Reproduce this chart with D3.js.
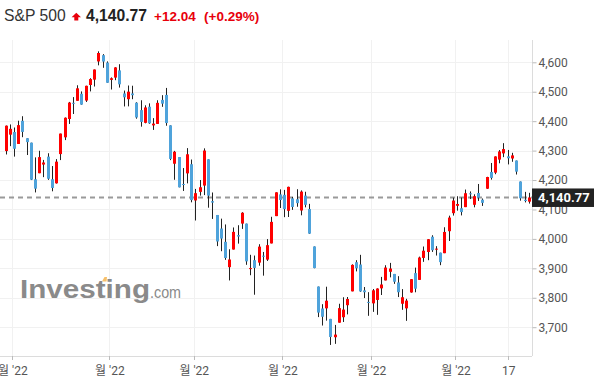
<!DOCTYPE html>
<html>
<head>
<meta charset="utf-8">
<script src="https://cdn.jsdelivr.net/npm/d3@7"></script>
<style>
html,body{margin:0;padding:0;background:#fff;}
svg{display:block;}
</style>
</head>
<body>
<svg id="chart" width="594" height="384"></svg>
<script>
// ---- data (S&P 500 daily candles) ----
const dates = ["2022-02-25","2022-02-28","2022-03-01","2022-03-02","2022-03-03","2022-03-04","2022-03-07","2022-03-08","2022-03-09","2022-03-10","2022-03-11","2022-03-14","2022-03-15","2022-03-16","2022-03-17","2022-03-18","2022-03-21","2022-03-22","2022-03-23","2022-03-24","2022-03-25","2022-03-28","2022-03-29","2022-03-30","2022-03-31","2022-04-01","2022-04-04","2022-04-05","2022-04-06","2022-04-07","2022-04-08","2022-04-11","2022-04-12","2022-04-13","2022-04-14","2022-04-18","2022-04-19","2022-04-20","2022-04-21","2022-04-22","2022-04-25","2022-04-26","2022-04-27","2022-04-28","2022-04-29","2022-05-02","2022-05-03","2022-05-04","2022-05-05","2022-05-06","2022-05-09","2022-05-10","2022-05-11","2022-05-12","2022-05-13","2022-05-16","2022-05-17","2022-05-18","2022-05-19","2022-05-20","2022-05-23","2022-05-24","2022-05-25","2022-05-26","2022-05-27","2022-05-31","2022-06-01","2022-06-02","2022-06-03","2022-06-06","2022-06-07","2022-06-08","2022-06-09","2022-06-10","2022-06-13","2022-06-14","2022-06-15","2022-06-16","2022-06-17","2022-06-21","2022-06-22","2022-06-23","2022-06-24","2022-06-27","2022-06-28","2022-06-29","2022-06-30","2022-07-01","2022-07-05","2022-07-06","2022-07-07","2022-07-08","2022-07-11","2022-07-12","2022-07-13","2022-07-14","2022-07-15","2022-07-18","2022-07-19","2022-07-20","2022-07-21","2022-07-22","2022-07-25","2022-07-26","2022-07-27","2022-07-28","2022-07-29","2022-08-01","2022-08-02","2022-08-03","2022-08-04","2022-08-05","2022-08-08","2022-08-09","2022-08-10","2022-08-11","2022-08-12","2022-08-15","2022-08-16","2022-08-17","2022-08-18","2022-08-19","2022-08-22","2022-08-23","2022-08-24"];
const opens = [4298.38,4354.17,4363.14,4322.56,4401.31,4342.12,4327.01,4202.66,4223.10,4252.55,4279.50,4202.75,4188.82,4288.14,4345.11,4407.34,4462.40,4469.10,4493.10,4469.98,4522.91,4541.09,4602.86,4624.20,4599.02,4540.32,4547.97,4572.45,4494.17,4474.65,4494.15,4462.64,4437.59,4394.30,4449.12,4385.63,4390.63,4472.26,4489.17,4385.83,4255.34,4278.14,4186.52,4222.58,4253.75,4130.61,4159.78,4181.18,4270.43,4128.17,4081.27,4035.18,3990.08,3903.95,3963.90,4013.02,4052.00,4051.98,3899.00,3927.76,3919.42,3942.94,3929.59,3984.60,4077.43,4151.09,4149.78,4095.41,4137.57,4134.72,4096.47,4147.12,4101.65,3974.39,3838.15,3763.52,3764.05,3728.18,3665.90,3715.31,3733.89,3774.71,3821.75,3920.76,3913.00,3825.09,3785.99,3781.00,3792.61,3831.98,3858.85,3888.26,3880.94,3851.95,3779.67,3763.99,3818.00,3883.79,3860.73,3935.32,3955.47,4007.36,3965.72,3953.22,3951.43,4026.13,4087.33,4112.38,4104.21,4107.96,4154.85,4115.87,4155.93,4133.11,4170.53,4227.40,4225.02,4269.37,4290.46,4280.40,4273.13,4266.31,4195.08,4133.09,4126.55];
const highs = [4385.34,4388.84,4378.45,4401.48,4416.78,4342.12,4327.01,4276.94,4299.40,4268.28,4291.01,4247.57,4271.05,4357.86,4412.67,4465.40,4481.75,4522.00,4501.07,4520.58,4546.03,4575.65,4637.30,4627.77,4603.07,4548.70,4583.50,4593.45,4503.94,4521.16,4520.41,4464.35,4471.00,4453.92,4460.46,4410.31,4471.03,4488.29,4512.94,4385.83,4299.02,4278.14,4240.71,4308.45,4269.68,4169.81,4200.10,4307.66,4270.43,4157.69,4081.27,4068.82,4049.09,3964.80,4038.88,4046.46,4090.72,4051.98,3945.96,3943.42,3981.88,3955.68,3999.33,4075.14,4158.49,4168.34,4166.54,4177.51,4142.67,4168.78,4164.86,4160.14,4119.10,3974.39,3838.15,3778.18,3837.56,3728.18,3707.71,3779.65,3801.79,3802.58,3913.65,3927.72,3945.86,3836.50,3818.99,3829.82,3832.19,3870.91,3910.63,3918.50,3880.94,3873.41,3829.44,3796.41,3863.62,3902.44,3939.81,3974.13,3999.29,4012.44,3975.30,3953.22,4039.56,4078.95,4140.15,4144.95,4140.47,4167.66,4161.29,4151.58,4186.62,4137.30,4211.03,4257.91,4280.47,4301.79,4325.28,4302.18,4292.53,4266.31,4195.08,4159.77,4156.56];
const lows = [4286.83,4315.12,4279.54,4322.56,4345.56,4284.98,4199.85,4157.87,4223.10,4209.80,4200.49,4161.72,4187.90,4267.77,4335.65,4390.57,4424.30,4469.10,4455.81,4465.17,4501.07,4517.69,4589.66,4581.32,4530.41,4507.57,4539.21,4514.17,4450.04,4450.30,4474.60,4408.38,4381.34,4392.70,4390.77,4370.30,4390.63,4448.76,4384.47,4267.62,4200.82,4175.04,4162.90,4188.63,4124.28,4062.51,4147.08,4148.91,4106.01,4067.91,3975.48,3958.17,3928.82,3858.87,3963.90,3983.99,4033.93,3911.91,3876.58,3810.32,3909.04,3875.13,3925.03,3984.60,4077.43,4104.88,4073.85,4074.37,4098.67,4109.18,4080.19,4107.20,4017.17,3900.16,3734.30,3705.68,3722.30,3639.77,3643.41,3715.31,3717.69,3743.52,3821.75,3889.66,3820.14,3799.02,3738.67,3752.10,3742.06,3809.37,3858.85,3869.34,3847.22,3802.36,3759.07,3721.56,3817.18,3818.63,3860.73,3922.03,3927.64,3955.77,3943.46,3910.74,3951.43,3992.97,4079.22,4096.02,4079.81,4107.96,4135.42,4107.31,4128.97,4112.09,4169.82,4201.41,4219.78,4256.90,4277.77,4253.08,4261.98,4218.70,4129.86,4124.03,4119.97];
const closes = [4384.65,4373.94,4306.26,4386.54,4363.49,4328.87,4201.09,4170.70,4277.88,4259.52,4204.31,4173.11,4262.45,4357.86,4411.67,4463.12,4461.18,4511.61,4456.24,4520.16,4543.06,4575.52,4631.60,4602.45,4530.41,4545.86,4582.64,4525.12,4481.15,4500.21,4488.28,4412.53,4397.45,4446.59,4392.59,4391.69,4462.21,4459.45,4393.66,4271.78,4296.12,4175.20,4183.96,4287.50,4131.93,4155.38,4175.48,4300.17,4146.87,4123.34,3991.24,4001.05,3935.18,3930.08,4023.89,4008.01,4088.85,3923.68,3900.79,3901.36,3973.75,3941.48,3978.73,4057.84,4158.24,4132.15,4101.23,4176.82,4108.54,4121.43,4160.68,4115.77,4017.82,3900.86,3749.63,3735.48,3789.99,3666.77,3674.84,3764.79,3759.89,3795.73,3911.74,3900.11,3821.55,3818.83,3785.38,3825.33,3831.39,3845.08,3902.62,3899.38,3854.43,3818.80,3801.78,3790.38,3863.16,3830.85,3936.69,3959.90,3998.95,3961.63,3966.84,3921.05,4023.61,4072.43,4130.29,4118.63,4091.19,4155.17,4151.94,4145.19,4140.06,4122.47,4210.24,4207.27,4280.15,4297.14,4305.20,4274.04,4283.74,4228.48,4137.99,4128.73,4140.77];

const yTicks = [3700,3800,3900,4000,4100,4200,4300,4400,4500,4600];
const xTickDates = ["2022-03-01","2022-04-01","2022-05-02","2022-06-01","2022-07-01","2022-08-01"];
const xTickLabels = ["월 '22","월 '22","월 '22","월 '22","월 '22","월 '22"];
const dayTickDate = "2022-08-17";
const dayTickLabel = "17";

const titleName = "S&P 500";
const lastPrice = 4140.77;
const change = "+12.04";
const changePct = "(+0.29%)";

// ---- layout ----
const W = 594, H = 384;
const plotLeft = 0, plotRight = 532, plotTop = 40, plotBottom = 356;
const UP = "#ff0000", DOWN = "#4fa3db", WICK = "#222";

const svg = d3.select("#chart");

const x = d3.scaleBand().domain(dates).range([3.9, 531.4]).padding(0);
const y = d3.scaleLinear().domain([3700, 4600]).range([327.2, 62.3]);
const step = x.step();
const cx = d => x(d) + step / 2;

// grid
const grid = svg.append("g");
grid.selectAll("line.h").data(yTicks).enter().append("line")
  .attr("x1", plotLeft).attr("x2", plotRight)
  .attr("y1", d => Math.round(y(d)) + 0.5).attr("y2", d => Math.round(y(d)) + 0.5)
  .attr("stroke", "#f1f1f1").attr("stroke-width", 1);

const vTicks = xTickDates.map((d, i) => ({pos: x(d), label: xTickLabels[i]}))
  .concat([{pos: cx(dayTickDate), label: dayTickLabel}]);
grid.selectAll("line.v").data(vTicks).enter().append("line")
  .attr("x1", d => Math.round(d.pos) + 0.5).attr("x2", d => Math.round(d.pos) + 0.5)
  .attr("y1", plotTop).attr("y2", plotBottom)
  .attr("stroke", "#f1f1f1").attr("stroke-width", 1);

// watermark
const wm = svg.append("g");
wm.append("text").attr("x", 20).attr("y", 298)
  .attr("font-family", "Arial, 'Liberation Sans', sans-serif")
  .attr("font-weight", "bold").attr("font-size", 25)
  .attr("textLength", 130).attr("lengthAdjust", "spacingAndGlyphs")
  .attr("fill", "#8a8a8a").text("Investing");
wm.append("text").attr("x", 150).attr("y", 298)
  .attr("font-family", "Arial, 'Liberation Sans', sans-serif")
  .attr("font-size", 16)
  .attr("textLength", 31).attr("lengthAdjust", "spacingAndGlyphs")
  .attr("fill", "#8a8a8a").text(".com");
wm.append("path").attr("d", "M102,281.5 L104.5,277 L107,277 L106.5,281.5 Z").attr("fill", "#f7c06a");

// axes lines
svg.append("line").attr("x1", plotRight + 0.5).attr("x2", plotRight + 0.5)
  .attr("y1", plotTop).attr("y2", plotBottom).attr("stroke", "#dcdcdc");
svg.append("line").attr("x1", 0).attr("x2", plotRight)
  .attr("y1", plotBottom + 0.5).attr("y2", plotBottom + 0.5).attr("stroke", "#dcdcdc");

// y axis (right)
const yAxis = d3.axisRight(y).tickValues(yTicks).tickSize(4).tickPadding(2)
  .tickFormat(d3.format(","));
const ya = svg.append("g").attr("transform", `translate(${plotRight + 0.5},0)`).call(yAxis);
ya.select(".domain").remove();
ya.selectAll(".tick line").attr("stroke", "#bbb");
ya.selectAll(".tick text").attr("fill", "#555").attr("font-size", 12)
  .attr("font-family", "Roboto, 'Noto Sans CJK KR', sans-serif");

// x axis ticks + labels
const xa = svg.append("g");
xa.selectAll("line").data(vTicks).enter().append("line")
  .attr("x1", d => Math.round(d.pos) + 0.5).attr("x2", d => Math.round(d.pos) + 0.5)
  .attr("y1", plotBottom).attr("y2", plotBottom + 4).attr("stroke", "#bbb");
xa.selectAll("text").data(vTicks).enter().append("text")
  .attr("x", d => d.pos + 0.5).attr("y", 375)
  .attr("text-anchor", "middle").attr("fill", "#555").attr("font-size", 12)
  .attr("font-family", "Roboto, 'Noto Sans CJK KR', sans-serif")
  .text(d => d.label);

// last price dashed line
svg.append("line").attr("x1", 0).attr("x2", plotRight)
  .attr("y1", y(lastPrice)).attr("y2", y(lastPrice))
  .attr("stroke", "#9a9a9a").attr("stroke-width", 2).attr("stroke-dasharray", "5,4");

// candles
const candles = dates.map((d, i) => ({d, o: opens[i], h: highs[i], l: lows[i], c: closes[i]}));
const cg = svg.append("g");
const bodyW = 3;
const left = d => Math.round(cx(d.d) - bodyW / 2);
cg.selectAll("line.wick").data(candles).enter().append("line")
  .attr("x1", d => left(d) + 1.5).attr("x2", d => left(d) + 1.5)
  .attr("y1", d => y(d.h)).attr("y2", d => y(d.l))
  .attr("stroke", WICK).attr("stroke-width", 1);
cg.selectAll("rect.body").data(candles).enter().append("rect")
  .attr("x", d => left(d)).attr("width", bodyW)
  .attr("y", d => y(Math.max(d.o, d.c)))
  .attr("height", d => Math.max(1, Math.abs(y(d.o) - y(d.c))))
  .attr("fill", d => d.c >= d.o ? UP : DOWN);

// price label box
const pb = svg.append("g");
pb.append("rect").attr("x", plotRight).attr("y", y(lastPrice) - 9)
  .attr("width", W - plotRight).attr("height", 18.5).attr("fill", "#222");
pb.append("text").attr("x", 538).attr("y", y(lastPrice)).attr("dy", "0.36em")
  .attr("fill", "#fff").attr("font-size", 13).attr("font-weight", "bold")
  .attr("font-family", "Roboto, sans-serif").text(d3.format(",.2f")(lastPrice));

// title
const tg = svg.append("g").attr("font-family", "Arial, 'Liberation Sans', sans-serif");
tg.append("text").attr("x", 4).attr("y", 20.5).attr("font-size", 15.7).attr("fill", "#333").text(titleName);
tg.append("path").attr("d", "M76.3,12.8 L81,17.3 L78.3,17.3 L78.3,20.5 L74.3,20.5 L74.3,17.3 L71.6,17.3 Z").attr("fill", "#e8000b");
tg.append("text").attr("x", 86).attr("y", 20.5).attr("font-size", 15.7).attr("font-weight", "bold").attr("fill", "#222").text(d3.format(",.2f")(lastPrice));
tg.append("text").attr("x", 154).attr("y", 20.5).attr("font-size", 13.5).attr("font-weight", "bold").attr("fill", "#e8000b").text(change);
tg.append("text").attr("x", 204).attr("y", 20.5).attr("font-size", 13.5).attr("font-weight", "bold").attr("fill", "#e8000b").text(changePct);
</script>
</body>
</html>
